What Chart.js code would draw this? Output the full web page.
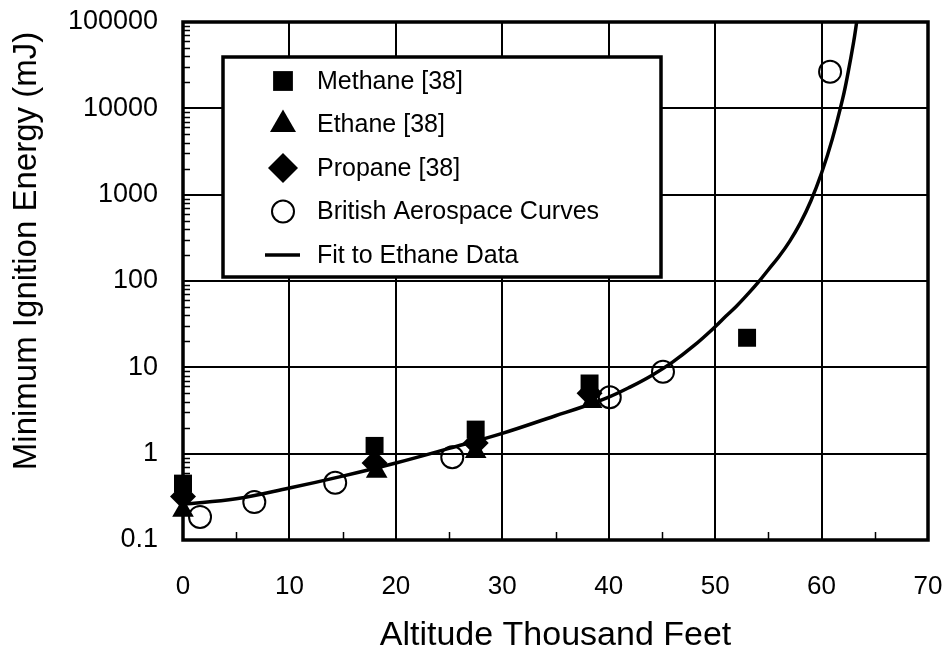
<!DOCTYPE html>
<html>
<head>
<meta charset="utf-8">
<script src="https://cdn.jsdelivr.net/npm/chart.js@4.4.1/dist/chart.umd.min.js"></script>
<style>
  html, body { margin: 0; padding: 0; background: #fff; }
  #wrap { width: 948px; height: 653px; }
</style>
</head>
<body>
<div id="wrap"><canvas id="c" width="948" height="653"></canvas></div>
<script>
// values
const methaneX = [0, 18, 27.5, 38.2, 53];
const methaneY = [0.45, 1.23, 1.9, 6.5, 22];

const ethaneX = [0, 18.2, 27.5, 38.4];
const ethaneY = [0.22, 0.62, 1.05, 4.0];

const propaneX = [0, 18, 27.5, 38.2];
const propaneY = [0.32, 0.78, 1.33, 5.0];

const baeX = [1.6, 6.7, 14.3, 25.3, 40.1, 45.1, 60.8];
const baeY = [0.185, 0.275, 0.46, 0.91, 4.5, 8.9, 26500];

const fitX = [0, 5, 10, 15, 20, 25, 30, 35, 37.5, 40, 42, 44, 46, 48, 50, 51, 52, 53, 54, 55, 56, 57, 58, 59, 60, 61, 62, 62.5, 63, 63.3];
const fitY = [0.26, 0.30, 0.40, 0.55, 0.78, 1.15, 1.72, 2.75, 3.47, 4.52, 5.9, 8.0, 11.5, 17.8, 29.5, 39, 51, 69, 95, 135, 192, 288, 468, 851, 1780, 4370, 13200, 26300, 57500, 100000];

const yTicks = [0.1, 1, 10, 100, 1000, 10000, 100000];
const yMinorMult = [2, 3, 4, 5, 6, 7, 8, 9];
const xMinorTicks = [5, 15, 25, 35, 45, 55, 65];

const xTitle = 'Altitude Thousand Feet';
const yTitle = 'Minimum Ignition Energy (mJ)';

const FONT = "'Liberation Sans', Arial, sans-serif";
const pts = (xs, ys) => xs.map((x, i) => ({ x, y: ys[i] }));

// plot frame + inward minor ticks
const framePlugin = {
  id: 'frame',
  beforeDatasetsDraw(chart) {
    const { ctx, chartArea: a, scales } = chart;
    ctx.save();
    ctx.strokeStyle = '#000';
    ctx.lineWidth = 1.5;
    ctx.beginPath();
    for (let d = -1; d < 5; d++) {
      yMinorMult.forEach(m => {
        const py = Math.round(scales.y.getPixelForValue(m * Math.pow(10, d))) + 0.5;
        ctx.moveTo(a.left, py);
        ctx.lineTo(a.left + 7, py);
      });
    }
    xMinorTicks.forEach(v => {
      const px = Math.round(scales.x.getPixelForValue(v)) + 0.5;
      ctx.moveTo(px, a.bottom);
      ctx.lineTo(px, a.bottom - 8);
    });
    ctx.stroke();
    ctx.lineWidth = 3.5;
    ctx.strokeRect(a.left, a.top, a.right - a.left, a.bottom - a.top);
    ctx.restore();
  },
  afterDraw(chart) {
    const { ctx } = chart;
    ctx.save();
    ctx.fillStyle = '#000';
    ctx.font = '33px ' + FONT;
    ctx.textAlign = 'center';
    ctx.textBaseline = 'middle';
    ctx.translate(27, 251);
    ctx.rotate(-Math.PI / 2);
    ctx.fillText(yTitle, 0, 0);
    ctx.restore();
  }
};

// boxed legend inside the plot
const boxLegend = {
  id: 'boxLegend',
  afterDatasetsDraw(chart) {
    const { ctx, chartArea: a } = chart;
    const x0 = a.left + 40, y0 = a.top + 35, w = 438, h = 220;
    ctx.save();
    ctx.fillStyle = '#fff';
    ctx.fillRect(x0, y0, w, h);
    ctx.strokeStyle = '#000';
    ctx.lineWidth = 3.5;
    ctx.strokeRect(x0, y0, w, h);
    ctx.font = '25px ' + FONT;
    ctx.textBaseline = 'middle';
    chart.data.datasets.forEach((ds, i) => {
      const cy = y0 + 24 + i * 43.5;
      const cx = x0 + 60;
      ctx.fillStyle = ds.backgroundColor;
      ctx.strokeStyle = '#000';
      if (ds.showLine) {
        ctx.lineWidth = 3.5;
        ctx.beginPath();
        ctx.moveTo(cx - 18, cy);
        ctx.lineTo(cx + 17, cy);
        ctx.stroke();
      } else {
        ctx.lineWidth = ds.borderWidth;
        Chart.helpers.drawPoint(ctx, {
          pointStyle: ds.pointStyle, radius: ds.legendRadius,
          rotation: 0, borderWidth: ds.borderWidth
        }, cx, cy);
      }
      ctx.fillStyle = '#000';
      ctx.fillText(ds.label, x0 + 94, cy + 1);
    });
    ctx.restore();
  }
};

new Chart(document.getElementById('c'), {
  type: 'scatter',
  data: {
    datasets: [
      { label: 'Methane [38]', data: pts(methaneX, methaneY), pointStyle: 'rect',
        pointRadius: 12.7, legendRadius: 14, backgroundColor: '#000', borderColor: '#000',
        borderWidth: 0, clip: false, order: 4 },
      { label: 'Ethane [38]', data: pts(ethaneX, ethaneY), pointStyle: 'triangle',
        pointRadius: 12.5, legendRadius: 15, backgroundColor: '#000', borderColor: '#000',
        borderWidth: 0, clip: false, order: 3 },
      { label: 'Propane [38]', data: pts(propaneX, propaneY), pointStyle: 'rectRot',
        pointRadius: 13, legendRadius: 15, backgroundColor: '#000', borderColor: '#000',
        borderWidth: 0, clip: false, order: 5 },
      { label: 'British Aerospace Curves', data: pts(baeX, baeY), pointStyle: 'circle',
        pointRadius: 11, legendRadius: 11, backgroundColor: 'rgba(0,0,0,0)', borderColor: '#000',
        borderWidth: 2, clip: false, order: 1 },
      { label: 'Fit to Ethane Data', data: pts(fitX, fitY), showLine: true,
        pointRadius: 0, borderColor: '#000', backgroundColor: '#000', borderWidth: 3.5,
        tension: 0.4, fill: false, order: 0 },
    ],
  },
  options: {
    responsive: false,
    animation: false,
    events: [],
    layout: { padding: { top: 22, right: 20, left: 0, bottom: 0 } },
    plugins: { legend: { display: false }, tooltip: { enabled: false } },
    scales: {
      x: {
        type: 'linear', min: 0, max: 70,
        afterFit(s) { s.height = 113; s.paddingLeft = 0; s.paddingRight = 0; },
        grid: { color: '#000', lineWidth: 2, drawTicks: false },
        border: { display: false },
        ticks: { stepSize: 10, color: '#000', padding: 31, font: { family: FONT, size: 26 } },
        title: { display: true, text: xTitle, color: '#000', padding: { top: 0, bottom: 0 },
                 font: { family: FONT, size: 34, lineHeight: 1 } },
      },
      y: {
        type: 'logarithmic', min: 0.1, max: 100000,
        afterFit(s) { s.width = 183; s.paddingTop = 0; s.paddingBottom = 0; },
        afterBuildTicks(s) { s.ticks = yTicks.map(v => ({ value: v })); },
        grid: { color: '#000', lineWidth: 2, drawTicks: false },
        border: { display: false },
        ticks: { color: '#000', padding: 25, font: { family: FONT, size: 27 },
                 callback: v => String(v) },
      },
    },
  },
  plugins: [framePlugin, boxLegend],
});
</script>
</body>
</html>
